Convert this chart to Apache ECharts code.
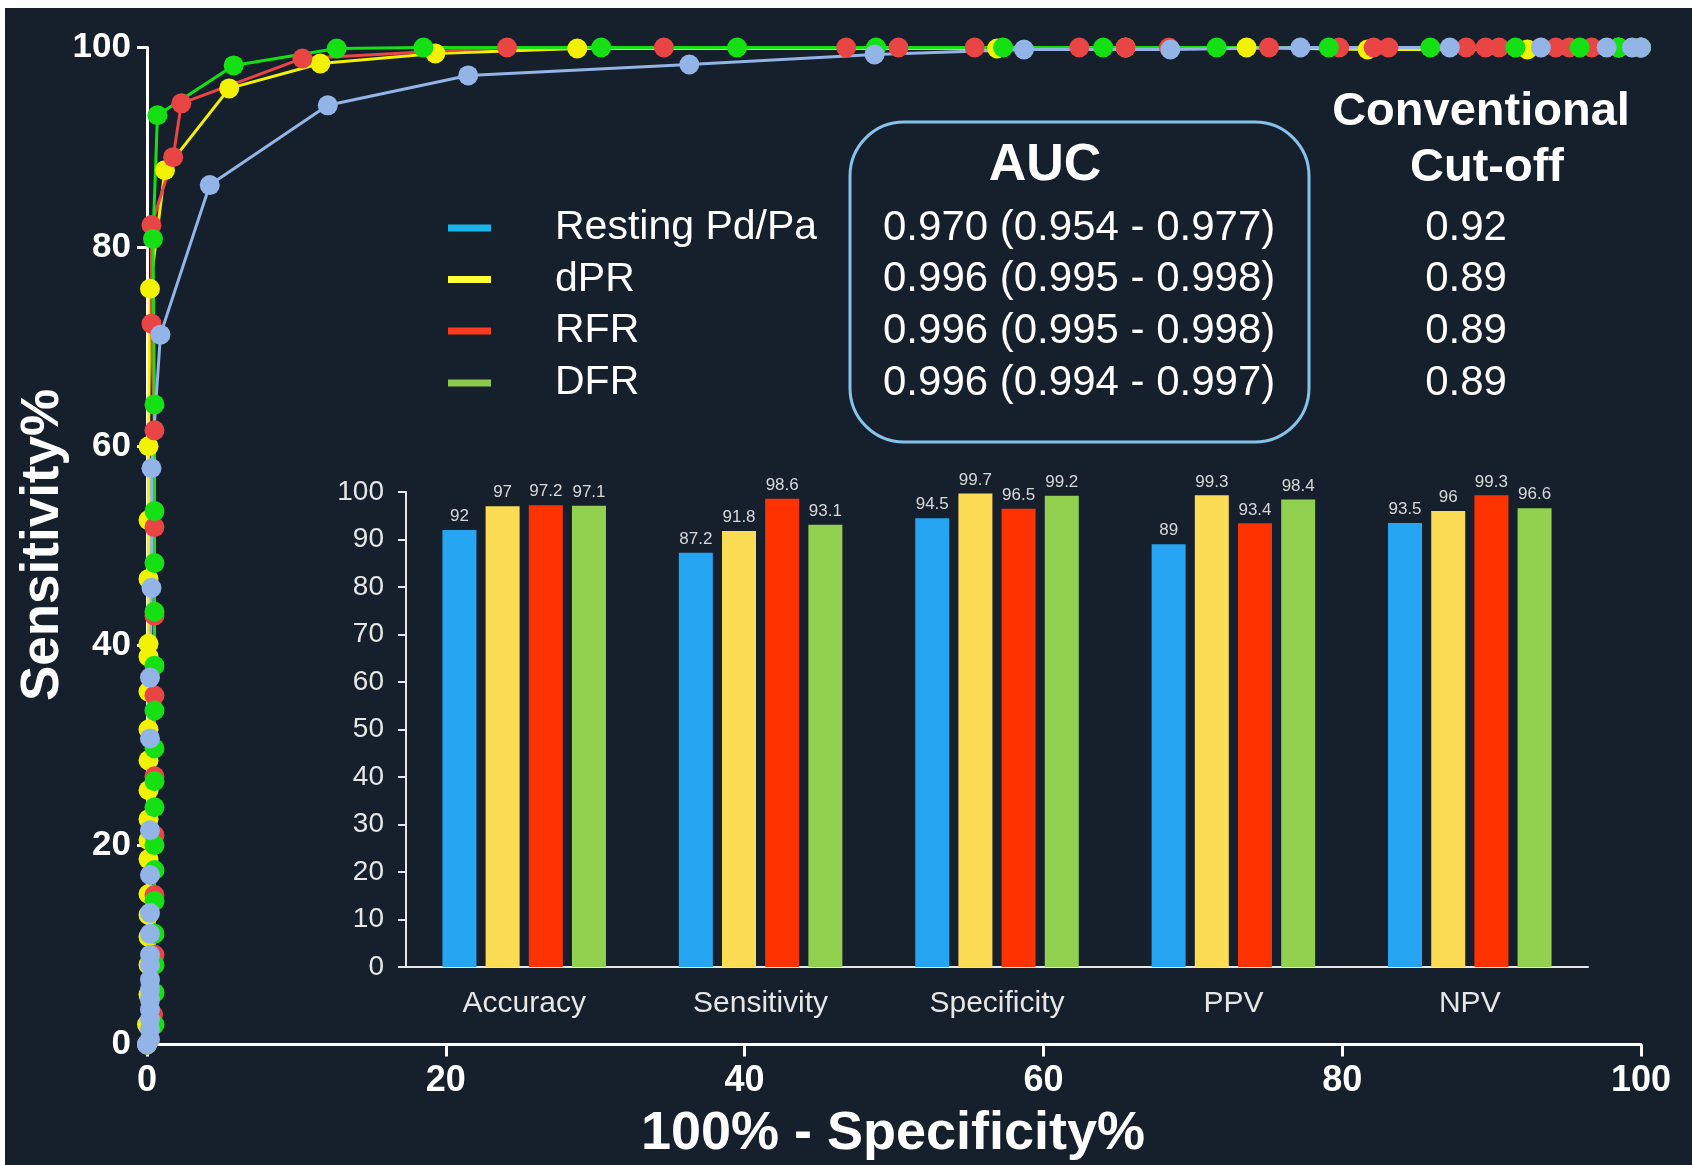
<!DOCTYPE html>
<html>
<head>
<meta charset="utf-8">
<script src="https://cdn.jsdelivr.net/npm/echarts@6.0.0/dist/echarts.min.js"></script>
<style>
  html, body { margin: 0; padding: 0; background: #ffffff; }
  #chart { width: 1692px; height: 1165px; }
</style>
</head>
<body>
<div id="chart"></div>
<script>
// ---- data ----
const seriesNames = ['Resting Pd/Pa', 'dPR', 'RFR', 'DFR'];

// ROC points: [100% - specificity, sensitivity]
const rocResting = [
  [0,0],[0.2,0.5],[0.2,1.5],[0.2,2.5],[0.2,3.5],[0.2,4.5],[0.2,5.5],[0.2,6.5],[0.2,8],[0.2,9],
  [0.2,11.1],[0.2,13.2],[0.2,17],[0.2,21.5],[0.2,30.7],[0.2,36.8],[0.3,45.8],[0.3,57.8],
  [0.9,71.2],[4.2,86.2],[12.1,94.2],[21.5,97.2],[36.3,98.3],[48.7,99.3],[58.7,99.8],
  [68.5,99.8],[77.2,100],[87.2,100],[93.3,100],[97.7,100],[99.4,100],[100,100]
];
const rocDpr = [
  [0,0],[0,2],[0.1,5],[0.1,8],[0.1,10.8],[0.1,13],[0.1,15.1],[0.1,18.6],[0.1,20.5],[0.1,22.6],
  [0.1,25.5],[0.1,28.5],[0.1,31.6],[0.1,35.4],[0.1,38.9],[0.1,40.2],[0.1,46.7],[0.1,52.6],
  [0.1,60],[0.2,75.8],[1.2,87.7],[5.5,95.9],[11.6,98.4],[19.3,99.4],[28.8,99.9],[56.9,99.9],
  [65.5,100],[73.6,100],[81.7,99.8],[92.4,99.8],[98.5,100],[100,100]
];
const rocRfr = [
  [0,0],[0.4,3],[0.5,9],[0.5,15],[0.5,21],[0.5,26.9],[0.5,35],[0.5,43],[0.5,51.9],[0.5,61.6],
  [0.3,72.3],[0.3,82.2],[1.75,89],[2.3,94.4],[10.4,98.9],[24.1,100],[34.6,100],[46.8,100],
  [50.3,100],[55.4,100],[62.4,100],[65.5,100],[68.4,100],[75.1,100],[79.8,100],[82.1,100],
  [83.1,100],[88.3,100],[89.6,100],[90.5,100],[94.3,100],[95.2,100],[96.7,100],[100,100]
];
const rocDfr = [
  [0,0],[0.5,2],[0.5,5.2],[0.5,8],[0.5,11.1],[0.5,14.4],[0.5,17.5],[0.5,20],[0.5,23.8],
  [0.5,26.4],[0.5,29.7],[0.5,33.5],[0.5,38],[0.5,43.4],[0.5,48.3],[0.5,53.5],[0.5,64.2],
  [0.4,80.8],[0.7,93.2],[5.8,98.2],[12.7,99.9],[18.5,100],[30.4,100],[39.5,100],[48.8,100],
  [57.3,100],[64,100],[71.6,100],[79.1,100],[85.9,100],[91.6,100],[95.9,100],[98.5,100],[100,100]
];

// Diagnostic performance (%) per index
const metricCategories = ['Accuracy', 'Sensitivity', 'Specificity', 'PPV', 'NPV'];
const barResting = [92, 87.2, 94.5, 89, 93.5];
const barDpr     = [97, 91.8, 99.7, 99.3, 96];
const barRfr     = [97.2, 98.6, 96.5, 93.4, 99.3];
const barDfr     = [97.1, 93.1, 99.2, 98.4, 96.6];

// AUC (95% CI) and conventional cut-off per index
const aucText    = ['0.970 (0.954 - 0.977)', '0.996 (0.995 - 0.998)', '0.996 (0.995 - 0.998)', '0.996 (0.994 - 0.997)'];
const cutoffText = ['0.92', '0.89', '0.89', '0.89'];

// ---- styling ----
const FONT = '"Liberation Sans", Arial, Helvetica, sans-serif';
const BG = '#161f2c';
const rocColors    = ['#93b4e6', '#f2f200', '#ea4545', '#14e014'];
const legendColors = ['#1cb5ea', '#ffff33', '#ff3b1f', '#8cc84b'];
const barColors    = ['#26a5f2', '#fddc55', '#ff3300', '#92d050'];

const rowY = [228, 279.5, 331, 383];

const chart = echarts.init(document.getElementById('chart'), null, { renderer: 'canvas' });

function lineSeries(name, data, color) {
  return {
    name, type: 'line', xAxisIndex: 0, yAxisIndex: 0, data,
    symbol: 'circle', symbolSize: 20, showSymbol: true, clip: false,
    lineStyle: { color, width: 3 },
    itemStyle: { color },
    emphasis: { disabled: true }
  };
}

function barSeries(name, data, color) {
  return {
    name, type: 'bar', xAxisIndex: 1, yAxisIndex: 1, data,
    barWidth: 34, barGap: '27%',
    itemStyle: { color },
    label: { show: true, position: 'top', distance: 5, color: '#d8d8d8', fontSize: 17, fontFamily: FONT },
    emphasis: { disabled: true }
  };
}

function txt(text, x, y, size, opts) {
  opts = opts || {};
  return {
    type: 'text', x, y, rotation: opts.rotation || 0, z: 50,
    style: {
      text,
      fill: opts.color || '#ffffff',
      font: (opts.bold ? 'bold ' : '') + size + 'px ' + FONT,
      textAlign: opts.align || 'left', align: opts.align || 'left',
      textVerticalAlign: 'middle', verticalAlign: 'middle'
    }
  };
}

const graphics = [];
// white edge strips
graphics.push({ type: 'rect', z: 100, shape: { x: 0, y: 0, width: 1692, height: 8 }, style: { fill: '#ffffff' } });
graphics.push({ type: 'rect', z: 100, shape: { x: 0, y: 0, width: 5, height: 1165 }, style: { fill: '#ffffff' } });

// axis titles
graphics.push(txt('100% - Specificity%', 893, 1134, 54, { bold: true, align: 'center' }));
graphics.push(txt('Sensitivity%', 43, 545, 53, { bold: true, align: 'center', rotation: Math.PI / 2 }));

// legend + AUC table + cut-off column
seriesNames.forEach((n, i) => {
  graphics.push({ type: 'rect', z: 50, shape: { x: 448, y: rowY[i] - 3.5, width: 43, height: 7 }, style: { fill: legendColors[i] } });
  graphics.push(txt(n, 555, rowY[i], 41));
  graphics.push(txt(aucText[i], 883, rowY[i], 42));
  graphics.push(txt(cutoffText[i], 1466, rowY[i], 42, { align: 'center' }));
});
graphics.push({ type: 'rect', z: 40, shape: { x: 850, y: 122, width: 459, height: 320, r: 54 },
  style: { fill: 'none', stroke: '#86c3ea', lineWidth: 3 } });
graphics.push(txt('AUC', 1045, 166, 52, { bold: true, align: 'center' }));
graphics.push(txt('Conventional', 1481, 112, 47, { bold: true, align: 'center' }));
graphics.push(txt('Cut-off', 1487, 168, 47, { bold: true, align: 'center' }));

const option = {
  animation: false,
  backgroundColor: BG,
  textStyle: { fontFamily: FONT },
  grid: [
    { left: 147, right: 51, top: 47.5, bottom: 120.5 },
    { left: 406, right: 104, top: 492, bottom: 198 }
  ],
  xAxis: [
    {
      gridIndex: 0, type: 'value', min: 0, max: 100, interval: 20,
      axisLine: { show: true, onZero: false, lineStyle: { color: '#ffffff', width: 3 } },
      axisTick: { show: true, length: 12, lineStyle: { color: '#ffffff', width: 3 } },
      axisLabel: { color: '#ffffff', fontSize: 36, fontWeight: 'bold', fontFamily: FONT, margin: 19 },
      splitLine: { show: false }
    },
    {
      gridIndex: 1, type: 'category', data: metricCategories,
      axisLine: { show: true, lineStyle: { color: '#e6e6e6', width: 2 } },
      axisTick: { show: false },
      axisLabel: { color: '#e6e6e6', fontSize: 30, fontFamily: FONT, margin: 22 },
      splitLine: { show: false }
    }
  ],
  yAxis: [
    {
      gridIndex: 0, type: 'value', min: 0, max: 100, interval: 20,
      axisLine: { show: true, onZero: false, lineStyle: { color: '#ffffff', width: 3 } },
      axisTick: { show: true, length: 10, lineStyle: { color: '#ffffff', width: 3 } },
      axisLabel: { color: '#ffffff', fontSize: 35, fontWeight: 'bold', fontFamily: FONT, margin: 16 },
      splitLine: { show: false }
    },
    {
      gridIndex: 1, type: 'value', min: 0, max: 100, interval: 10,
      axisLine: { show: true, lineStyle: { color: '#e6e6e6', width: 2 } },
      axisTick: { show: true, length: 8, lineStyle: { color: '#e6e6e6', width: 2 } },
      axisLabel: { color: '#e6e6e6', fontSize: 28, fontFamily: FONT, margin: 22 },
      splitLine: { show: false }
    }
  ],
  series: [
    lineSeries(seriesNames[1], rocDpr, rocColors[1]),
    lineSeries(seriesNames[2], rocRfr, rocColors[2]),
    lineSeries(seriesNames[3], rocDfr, rocColors[3]),
    lineSeries(seriesNames[0], rocResting, rocColors[0]),
    barSeries(seriesNames[0], barResting, barColors[0]),
    barSeries(seriesNames[1], barDpr, barColors[1]),
    barSeries(seriesNames[2], barRfr, barColors[2]),
    barSeries(seriesNames[3], barDfr, barColors[3])
  ],
  graphic: { elements: graphics }
};

chart.setOption(option);
</script>
</body>
</html>
